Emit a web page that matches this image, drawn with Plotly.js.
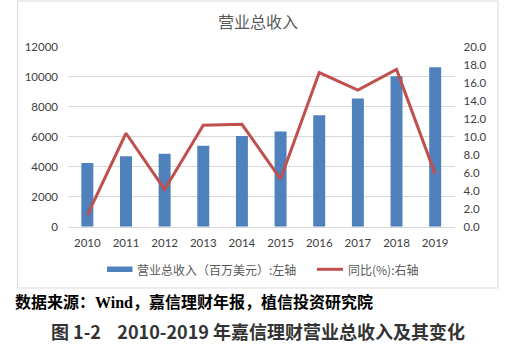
<!DOCTYPE html>
<html>
<head>
<meta charset="utf-8">
<script src="https://cdn.plot.ly/plotly-3.0.1.min.js"></script>
<style>
html,body{margin:0;padding:0;background:#fff;}
#chart{width:517px;height:354px;}
</style>
</head>
<body>
<div id="chart"></div>
<script>
const years = ['2010','2011','2012','2013','2014','2015','2016','2017','2018','2019'];
const revenue = [4250, 4700, 4870, 5400, 6050, 6350, 7450, 8560, 10050, 10650];
const yoy = [1.3, 10.4, 4.15, 11.3, 11.4, 5.3, 17.15, 15.2, 17.5, 5.85];
const leftTicks = [0, 2000, 4000, 6000, 8000, 10000, 12000];
const rightTicks = [0, 2, 4, 6, 8, 10, 12, 14, 16, 18, 20];
const chartTitle = '营业总收入';
const seriesNames = ['营业总收入（百万美元）:左轴', '同比(%):右轴'];
const sourceText = '数据来源：<span style="font-family:Liberation Serif">Wind</span>，嘉信理财年报，植信投资研究院';
const captionText = '图 1-2&nbsp;&nbsp;&nbsp;&nbsp;2010-2019 年嘉信理财营业总收入及其变化';

const W = 517, H = 354;
const px = x => x / W;
const py = y => (H - y) / H;

const tickFont = {family: 'Lato, "Noto Sans CJK SC", sans-serif', size: 11.5, color: '#404040'};
const cjk = '"Noto Sans CJK SC", sans-serif';

const traces = [
  {type: 'bar', x: years, y: revenue, name: seriesNames[0], marker: {color: '#4F81BD'},
   width: 0.31, showlegend: false, hoverinfo: 'none'},
  {type: 'scatter', mode: 'lines', x: years, y: yoy, yaxis: 'y2', name: seriesNames[1],
   line: {color: '#C0504D', width: 3}, showlegend: false, hoverinfo: 'none'}
];

const layout = {
  width: W, height: H,
  margin: {l: 0, r: 0, t: 0, b: 0},
  paper_bgcolor: '#fff', plot_bgcolor: 'rgba(0,0,0,0)',
  showlegend: false,
  xaxis: {type: 'category', domain: [px(68), px(454.5)], showgrid: false, showline: true,
          linecolor: '#D9D9D9', linewidth: 1, ticks: '', tickfont: tickFont, ticklabelstandoff: 5,
          fixedrange: true},
  yaxis: {domain: [py(226.7), py(47)], range: [0, 12000], tickvals: leftTicks, tickformat: 'd',
          showgrid: true, gridcolor: '#D9D9D9', gridwidth: 1, zeroline: false, showline: false,
          ticks: '', tickfont: tickFont, ticklabelstandoff: 9, fixedrange: true},
  yaxis2: {overlaying: 'y', side: 'right', range: [0, 20], tickvals: rightTicks, tickformat: '.1f',
           showgrid: false, zeroline: false, showline: false, ticks: '', tickfont: tickFont,
           ticklabelstandoff: 8, fixedrange: true},
  shapes: [
    {type: 'rect', xref: 'paper', yref: 'paper', x0: px(17.5), x1: px(498), y0: py(288), y1: py(1),
     line: {color: '#D9D9D9', width: 1}, fillcolor: 'rgba(0,0,0,0)', layer: 'below'},
    {type: 'rect', xref: 'paper', yref: 'paper', x0: px(107), x1: px(132.5), y0: py(272), y1: py(266.5),
     line: {width: 0}, fillcolor: '#4F81BD'},
    {type: 'line', xref: 'paper', yref: 'paper', x0: px(317), x1: px(343), y0: py(269.3), y1: py(269.3),
     line: {color: '#C0504D', width: 3}}
  ],
  annotations: [
    {text: chartTitle, xref: 'paper', yref: 'paper', x: px(258), y: py(21), xanchor: 'center', yanchor: 'middle',
     showarrow: false, font: {family: cjk, size: 16, color: '#595959'}},
    {text: seriesNames[0], xref: 'paper', yref: 'paper', x: px(134.5), y: py(269.3), xanchor: 'left', yanchor: 'middle',
     showarrow: false, font: {family: cjk, size: 12, color: '#595959'}},
    {text: seriesNames[1], xref: 'paper', yref: 'paper', x: px(345.5), y: py(269.3), xanchor: 'left', yanchor: 'middle',
     showarrow: false, font: {family: cjk, size: 12, color: '#595959'}},
    {text: '<b>' + sourceText + '</b>', xref: 'paper', yref: 'paper', x: px(13), y: py(301), xanchor: 'left', yanchor: 'middle',
     showarrow: false, font: {family: cjk, size: 16, color: '#000'}},
    {text: '<b>' + captionText + '</b>', xref: 'paper', yref: 'paper', x: px(258), y: py(331), xanchor: 'center', yanchor: 'middle',
     showarrow: false, font: {family: cjk, size: 18, color: '#333333'}}
  ]
};

Plotly.newPlot('chart', traces, layout, {staticPlot: true, displayModeBar: false});
</script>
</body>
</html>
